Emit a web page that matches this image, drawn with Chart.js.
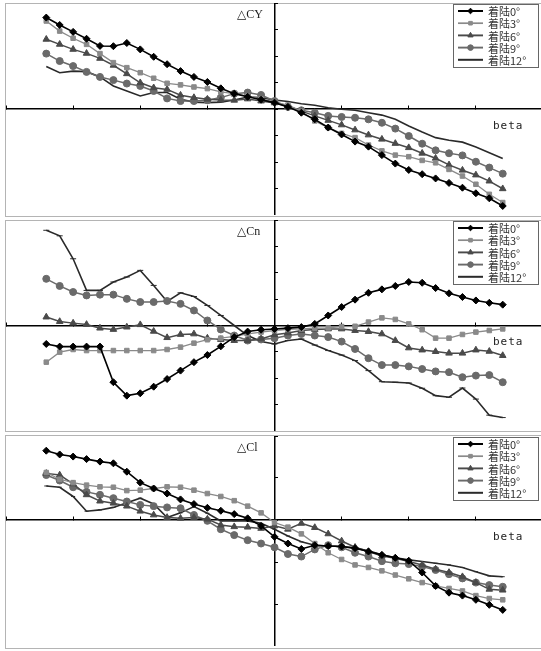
<!DOCTYPE html>
<html><head><meta charset="utf-8">
<script src="https://cdn.jsdelivr.net/npm/chart.js@4.4.1/dist/chart.umd.min.js"></script>
<style>
html,body{margin:0;padding:0;background:#fff;width:541px;height:651px;overflow:hidden;position:relative}
.frame{position:absolute;left:5px;width:560px;border:1px solid #b4b4b4;box-sizing:border-box}
canvas{position:absolute;left:6px}
</style></head><body>
<div class="frame" style="top:3px;height:214px"></div>
<div class="frame" style="top:220px;height:212px"></div>
<div class="frame" style="top:435px;height:214px"></div>
<canvas id="c1" width="537" height="212" style="top:3px"></canvas>
<canvas id="c2" width="537" height="211" style="top:220px"></canvas>
<canvas id="c3" width="537" height="210" style="top:436px"></canvas>
<script>
// ---------- data ----------
const beta = [-17,-16,-15,-14,-13,-12,-11,-10,-9,-8,-7,-6,-5,-4,-3,-2,-1,0,1,2,3,4,5,6,7,8,9,10,11,12,13,14,15,16,17];
const seriesNames = ['着陆0°','着陆3°','着陆6°','着陆9°','着陆12°'];
const panelLabels = ['△CY','△Cn','△Cl'];
const xAxisLabel = 'beta';

const cy0  = [3.45,3.17,2.91,2.65,2.38,2.37,2.49,2.25,1.97,1.69,1.43,1.21,1.02,0.78,0.58,0.46,0.35,0.24,0.08,-0.14,-0.39,-0.70,-0.96,-1.23,-1.42,-1.74,-2.06,-2.30,-2.46,-2.62,-2.79,-2.97,-3.18,-3.37,-3.66];
const cy3  = [3.32,2.94,2.67,2.44,2.09,1.75,1.56,1.37,1.16,0.97,0.91,0.83,0.77,0.65,0.58,0.49,0.38,0.26,0.15,-0.08,-0.45,-0.70,-0.92,-1.08,-1.36,-1.58,-1.74,-1.80,-1.94,-2.03,-2.28,-2.53,-2.84,-3.22,-3.53];
const cy6  = [2.63,2.44,2.25,2.10,1.91,1.65,1.33,0.99,0.80,0.74,0.52,0.43,0.37,0.34,0.33,0.38,0.30,0.23,0.11,-0.08,-0.26,-0.43,-0.60,-0.79,-0.98,-1.14,-1.30,-1.46,-1.67,-1.86,-2.11,-2.31,-2.49,-2.72,-3.01];
const cy9  = [2.09,1.81,1.62,1.40,1.21,1.09,0.96,0.87,0.68,0.40,0.30,0.30,0.33,0.43,0.58,0.62,0.53,0.30,0.08,-0.05,-0.14,-0.26,-0.30,-0.33,-0.39,-0.52,-0.74,-1.02,-1.31,-1.56,-1.67,-1.75,-1.99,-2.21,-2.44];
const cy12 = [1.60,1.37,1.43,1.41,1.21,0.87,0.68,0.49,0.62,0.62,0.37,0.26,0.24,0.26,0.34,0.45,0.43,0.34,0.28,0.20,0.14,0.05,-0.01,-0.05,-0.14,-0.23,-0.39,-0.64,-0.87,-1.08,-1.18,-1.25,-1.43,-1.65,-1.87];

const cn0  = [-0.70,-0.80,-0.80,-0.80,-0.80,-2.15,-2.66,-2.57,-2.32,-2.03,-1.71,-1.39,-1.12,-0.79,-0.44,-0.23,-0.16,-0.13,-0.10,-0.06,0.06,0.38,0.70,0.98,1.24,1.37,1.50,1.65,1.62,1.42,1.22,1.08,0.95,0.86,0.79];
const cn3  = [-1.39,-1.01,-0.91,-0.95,-0.95,-0.95,-0.95,-0.95,-0.95,-0.91,-0.82,-0.67,-0.54,-0.48,-0.41,-0.32,-0.25,-0.19,-0.15,-0.13,-0.10,-0.09,-0.04,-0.03,0.13,0.29,0.23,0.06,-0.16,-0.48,-0.48,-0.34,-0.25,-0.19,-0.13];
const cn6  = [0.32,0.15,0.09,0.04,-0.10,-0.15,-0.06,0.03,-0.22,-0.46,-0.34,-0.32,-0.48,-0.53,-0.57,-0.57,-0.51,-0.35,-0.28,-0.19,-0.15,-0.13,-0.13,-0.19,-0.23,-0.32,-0.57,-0.85,-0.93,-0.99,-1.05,-1.05,-0.93,-0.98,-1.14];
const cn9  = [1.77,1.50,1.27,1.14,1.17,1.17,1.01,0.89,0.89,0.93,0.82,0.57,0.19,-0.15,-0.38,-0.57,-0.53,-0.48,-0.38,-0.32,-0.38,-0.44,-0.61,-0.89,-1.24,-1.50,-1.50,-1.55,-1.65,-1.74,-1.77,-1.96,-1.90,-1.88,-2.15];
const cn12 = [3.61,3.40,2.53,1.33,1.33,1.65,1.84,2.09,1.52,0.91,1.24,1.10,0.76,0.38,0.00,-0.38,-0.61,-0.70,-0.57,-0.51,-0.74,-0.95,-1.12,-1.33,-1.71,-2.13,-2.15,-2.18,-2.38,-2.66,-2.72,-2.37,-2.79,-3.40,-3.49];

const cl0  = [1.65,1.56,1.51,1.45,1.39,1.35,1.15,0.89,0.75,0.63,0.49,0.38,0.29,0.22,0.14,0.04,-0.14,-0.40,-0.56,-0.69,-0.60,-0.62,-0.63,-0.67,-0.75,-0.83,-0.90,-0.97,-1.25,-1.57,-1.73,-1.80,-1.90,-2.02,-2.14];
const cl3  = [1.13,0.97,0.89,0.83,0.79,0.78,0.70,0.71,0.75,0.79,0.78,0.71,0.63,0.56,0.46,0.33,0.17,-0.06,-0.17,-0.33,-0.56,-0.78,-0.94,-1.07,-1.13,-1.21,-1.31,-1.40,-1.49,-1.57,-1.63,-1.69,-1.80,-1.87,-1.90];
const cl6  = [1.11,1.07,0.86,0.60,0.45,0.40,0.33,0.21,0.12,0.06,0.04,0.06,0.02,-0.12,-0.16,-0.17,-0.20,-0.14,-0.22,-0.08,-0.18,-0.33,-0.50,-0.65,-0.75,-0.86,-0.91,-0.99,-1.07,-1.17,-1.25,-1.35,-1.49,-1.65,-1.67];
const cl9  = [1.07,0.94,0.78,0.67,0.60,0.52,0.44,0.36,0.33,0.30,0.28,0.12,-0.02,-0.22,-0.36,-0.48,-0.56,-0.65,-0.81,-0.87,-0.70,-0.60,-0.65,-0.78,-0.87,-0.98,-1.03,-1.05,-1.11,-1.19,-1.29,-1.39,-1.49,-1.55,-1.59];
const cl12 = [0.81,0.78,0.56,0.21,0.24,0.30,0.41,0.52,0.38,0.06,0.17,0.32,0.16,-0.02,-0.02,-0.02,-0.08,-0.22,-0.38,-0.52,-0.60,-0.62,-0.63,-0.67,-0.73,-0.83,-0.90,-0.95,-0.99,-1.03,-1.07,-1.13,-1.23,-1.33,-1.35];

// ---------- styles ----------
const styles = [
  {color:'#000000', pointStyle:'rectRot', radius:3.5, width:1.6},
  {color:'#8a8a8a', pointStyle:'rect',    radius:3.2, width:1.3},
  {color:'#4a4a4a', pointStyle:'triangle',radius:3.8, width:1.5},
  {color:'#6a6a6a', pointStyle:'circle',  radius:3.5, width:1.5},
  {color:'#2a2a2a', pointStyle:'line',    radius:0,   width:1.6}
];

function drawMarker(ctx, st, x, y){
  if (st.pointStyle === 'line') return;
  if (Chart.helpers && Chart.helpers.drawPoint) {
    Chart.helpers.drawPoint(ctx, {pointStyle: st.pointStyle, radius: st.radius, borderWidth: 1, rotation: 0}, x, y);
  }
}

const decorPlugin = {
  id: 'panelDecor',
  afterDatasetsDraw(chart, args, opts) {
    const ctx = chart.ctx;
    const area = chart.chartArea;
    const ys = chart.scales.y;
    ctx.save();
    // panel label
    ctx.fillStyle = '#222';
    ctx.font = '12px "Liberation Serif", "DejaVu Serif", serif';
    ctx.textBaseline = 'middle';
    ctx.textAlign = 'left';
    ctx.fillText(opts.label, 231, area.top + 12);
    // beta label
    ctx.font = '11px "DejaVu Sans Mono", "Liberation Mono", monospace';
    try { ctx.letterSpacing = '1px'; } catch(e) {}
    ctx.fillText(xAxisLabel, 487, ys.getPixelForValue(0) + 17);
    try { ctx.letterSpacing = '0px'; } catch(e) {}
    // legend
    const bx = 447, by = area.top + 1, bw = 85, bh = 63;
    ctx.fillStyle = '#fff';
    ctx.fillRect(bx, by, bw, bh);
    ctx.strokeStyle = '#666';
    ctx.lineWidth = 1;
    ctx.strokeRect(bx + 0.5, by + 0.5, bw, bh);
    ctx.font = '11px "Noto Sans CJK SC", sans-serif';
    seriesNames.forEach((name, i) => {
      const st = styles[i];
      const yy = by + 7 + i * 12.2;
      ctx.strokeStyle = st.color;
      ctx.fillStyle = st.color;
      ctx.lineWidth = st.width + 0.4;
      ctx.beginPath();
      ctx.moveTo(bx + 5, yy);
      ctx.lineTo(bx + 30, yy);
      ctx.stroke();
      ctx.lineWidth = 1;
      drawMarker(ctx, {pointStyle: st.pointStyle, radius: st.radius * 0.8}, bx + 17.5, yy);
      ctx.fillStyle = '#333';
      ctx.fillText(name, bx + 35, yy + 1);
    });
    ctx.restore();
  }
};

function makeChart(id, label, seriesList, yMin, yMax, dashRadius) {
  const datasets = seriesList.map((vals, i) => {
    const st = styles[i];
    return {
      label: seriesNames[i],
      data: beta.map((b, k) => ({x: b, y: vals[k]})),
      borderColor: st.color,
      backgroundColor: st.color,
      pointBackgroundColor: st.color,
      pointBorderColor: st.color,
      pointStyle: st.pointStyle,
      pointRadius: st.pointStyle === 'line' ? dashRadius : st.radius,
      pointBorderWidth: 1,
      borderWidth: st.width,
      tension: 0,
      fill: false
    };
  });
  const axisCommon = {
    type: 'linear',
    ticks: {display: false, stepSize: 1},
    grid: {drawOnChartArea: false, drawTicks: true, tickLength: -4, color: '#000', lineWidth: 1},
    border: {display: true, color: '#000', width: 1.5}
  };
  return new Chart(document.getElementById(id), {
    type: 'line',
    data: {datasets},
    options: {
      responsive: false,
      animation: false,
      events: [],
      devicePixelRatio: 1,
      layout: {padding: 0, autoPadding: false},
      plugins: {legend: {display: false}, tooltip: {enabled: false}, panelDecor: {label}},
      scales: {
        x: Object.assign({}, axisCommon, {
          min: -20, max: 20, position: {y: 0},
          ticks: {display: false, stepSize: 5},
          afterFit: s => { s.height = 0; }
        }),
        y: Object.assign({}, axisCommon, {
          min: yMin, max: yMax, position: {x: 0},
          afterFit: s => { s.width = 0; }
        })
      }
    },
    plugins: [decorPlugin]
  });
}

makeChart('c1', panelLabels[0], [cy0, cy3, cy6, cy9, cy12], -4, 4, 0);
makeChart('c2', panelLabels[1], [cn0, cn3, cn6, cn9, cn12], -4, 4, 3);
makeChart('c3', panelLabels[2], [cl0, cl3, cl6, cl9, cl12], -3, 2, 2);
</script>
</body></html>
